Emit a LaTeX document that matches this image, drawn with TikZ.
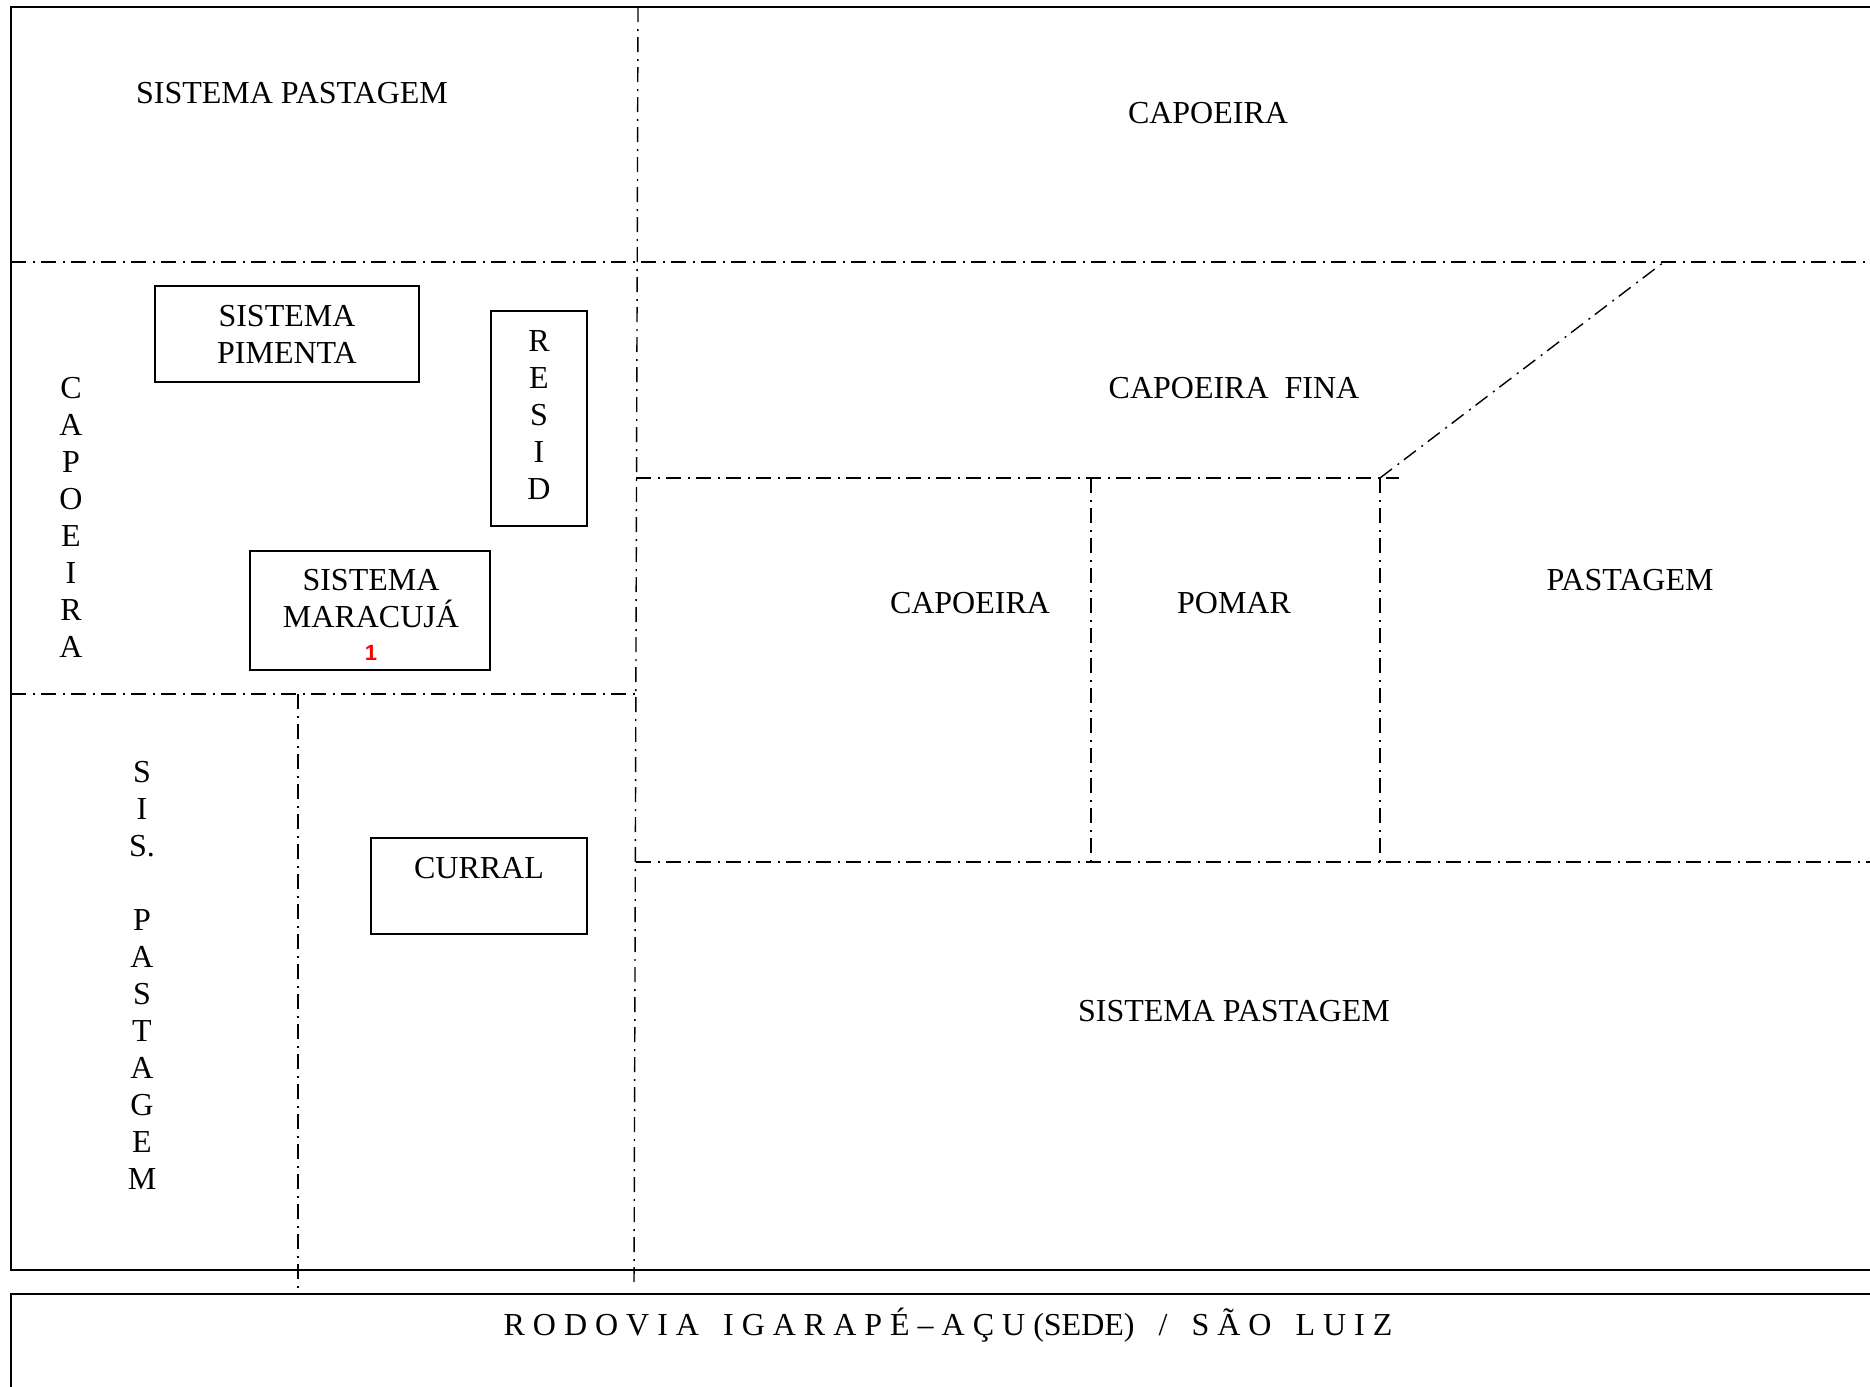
\documentclass[tikz,border=0pt]{standalone}
\usepackage{fontspec}
\setmainfont{Liberation Serif}
\newfontfamily\numfont{Liberation Sans}
\tikzset{
    frame line/.style={line width=1.2pt},
    lot line/.style={line width=0.7pt,dash pattern=on 7.5pt off 3.5pt on 1pt off 3pt},
    lot box/.style={line width=0.9pt},
    lot label/.style={font=\fontsize{16}{18.5}\selectfont,align=center,inner sep=0pt},
}

\begin{document}
\begin{tikzpicture}[x=0.5pt,y=-0.5pt]
    \clip (0,0) rectangle (1870,1387);
    \coordinate (midtop) at (638,7);
    \coordinate (midbot) at (634,1288);
    \coordinate (westA) at (11,262);
    \coordinate (eastA) at (1880,262);
    \coordinate (westB) at (11,694);
    \coordinate (eastB) at (636,694);
    \coordinate (leftbot) at (298,1288);
    \coordinate (leftup) at (298,694);
    \coordinate (fineW) at (636,478);
    \coordinate (fineE) at (1399,478);
    \coordinate (corner) at (1380,478);
    \coordinate (slopeTop) at (1664,262);
    \coordinate (pomarW) at (1091,478);
    \coordinate (pomarSW) at (1091,862);
    \coordinate (cornerS) at (1380,862);
    \coordinate (southW) at (636,862);
    \coordinate (southE) at (1880,862);

    % outer frame and road strip
    \draw[frame line] (1880,7) -- (11,7) -- (11,1270) -- (1880,1270);
    \draw[frame line] (1880,1294) -- (11,1294) -- (11,1400);

    % lot boundaries
    \draw[lot line] (midtop) -- (midbot);
    \draw[lot line] (westA) -- (eastA);
    \draw[lot line] (westB) -- (eastB);
    \draw[lot line] (leftup) -- (leftbot);
    \draw[lot line] (fineW) -- (fineE);
    \draw[lot line] (corner) -- (slopeTop);
    \draw[lot line] (corner) -- (cornerS);
    \draw[lot line] (pomarW) -- (pomarSW);
    \draw[lot line] (southW) -- (southE);

    % buildings and plots
    \draw[lot box] (155,286) rectangle (419,382);
    \draw[lot box] (491,311) rectangle (587,526);
    \draw[lot box] (250,551) rectangle (490,670);
    \draw[lot box] (371,838) rectangle (587,934);

    \node[lot label] (pastTop) at (292,93) {SISTEMA PASTAGEM};
    \node[lot label] (capTop) at (1208,113) {CAPOEIRA};
    \node[lot label] (capFina) at (1234,388) {CAPOEIRA\ \ FINA};
    \node[lot label] (capMid) at (970,603) {CAPOEIRA};
    \node[lot label] (pomar) at (1234,603) {POMAR};
    \node[lot label] (pastRight) at (1630,580) {PASTAGEM};
    \node[lot label] (pastBot) at (1234,1011) {SISTEMA PASTAGEM};
    \node[lot label] (curral) at (479,868) {CURRAL};
    \node[lot label] (pimenta) at (287,334) {SISTEMA\\PIMENTA};
    \node[lot label] (maracuja) at (371,599) {SISTEMA\\MARACUJÁ};
    \node[font=\numfont\bfseries\fontsize{11}{13}\selectfont,text=red,inner sep=0pt] (plot1) at (371,653) {1};

    \foreach \ch [count=\i] in {R,E,S,I,D} {
        \node[lot label] (resid\i) at (539,{304+37*\i}) {\ch};
    }
    \foreach \ch [count=\i] in {C,A,P,O,E,I,R,A} {
        \node[lot label] (capLeft\i) at (71,{351+37*\i}) {\ch};
    }
    \foreach \ch [count=\i] in {S,I,S.} {
        \node[lot label] (sisA\i) at (142,{735+37*\i}) {\ch};
    }
    \foreach \ch [count=\i] in {P,A,S,T,A,G,E,M} {
        \node[lot label] (sisB\i) at (142,{883+37*\i}) {\ch};
    }

    \node[lot label] (road) at (948,1325) {R O D O V I A\ \ \ I G A R A P É – A Ç U (SEDE)\ \ \ /\ \ \ S Ã O\ \ \ L U I Z};
\end{tikzpicture}
\end{document}
